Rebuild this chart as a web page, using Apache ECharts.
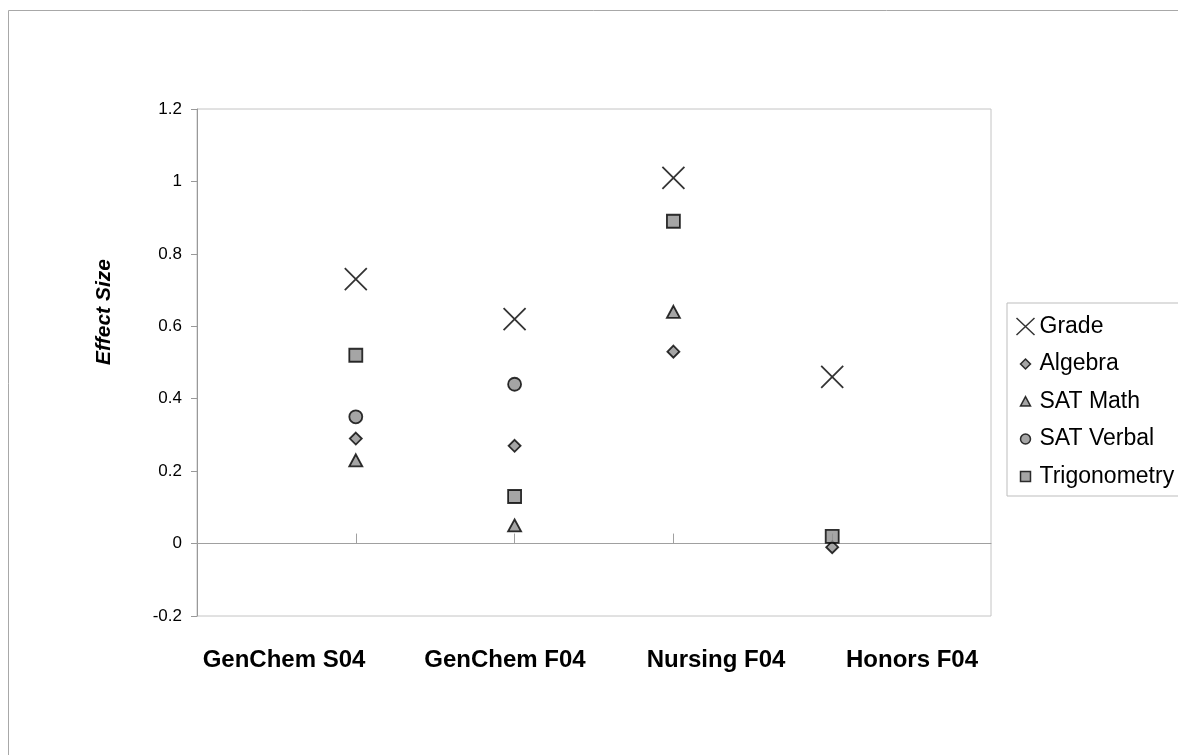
<!DOCTYPE html>
<html>
<head>
<meta charset="utf-8">
<script src="https://cdn.jsdelivr.net/npm/echarts@6/dist/echarts.min.js"></script>
<style>
html,body{margin:0;padding:0;background:#fff;}
#chart{width:1178px;height:755px;}
</style>
</head>
<body>
<div id="chart"></div>
<script>
var categories = ['GenChem S04', 'GenChem F04', 'Nursing F04', 'Honors F04'];
var grade     = [0.73, 0.62, 1.01, 0.46];
var algebra   = [0.29, 0.27, 0.53, -0.01];
var satMath   = [0.23, 0.05, 0.64, null];
var satVerbal = [0.35, 0.44, null, null];
var trig      = [0.52, 0.13, 0.89, 0.02];
var yTicks = [-0.2, 0, 0.2, 0.4, 0.6, 0.8, 1, 1.2];

function pts(arr) {
  var out = [];
  arr.forEach(function (v, i) { if (v !== null) out.push([i + 1, v]); });
  return out;
}

var FONT = '"Liberation Sans", Arial, sans-serif';
var gray = '#8e8e8e';
var markerStyle = { color: gray, borderColor: '#000', borderWidth: 1.8 };
var xPath = 'path://M0,0L10,10M10,0L0,10';

// legend icons (18x18 box, smaller shapes centred inside)
var icons = {
  'Grade': 'path://M0,0L18,17M18,0L0,17',
  'Algebra': 'path://M0,0M18,18M9,4L14,9L9,14L4,9Z',
  'SAT Math': 'path://M0,0M18,18M9,4.2L14,13.5L4,13.5Z',
  'SAT Verbal': 'path://M0,0M18,18M4,9A5,5 0 1 0 14,9A5,5 0 1 0 4,9Z',
  'Trigonometry': 'path://M0,0M18,18M4,4L14,4L14,14L4,14Z'
};

var chart = echarts.init(document.getElementById('chart'), null, { renderer: 'canvas' });

var labelX = [284, 505, 716, 912];

var option = {
  animation: false,
  backgroundColor: '#fff',
  grid: {
    left: 197, top: 109, right: 187, bottom: 139,
    show: true, borderColor: '#c4c4c4', borderWidth: 1
  },
  xAxis: {
    type: 'value', min: 0, max: 5, interval: 1,
    axisLine: { show: true, onZero: true, lineStyle: { color: '#a0a0a0', width: 1 } },
    axisTick: { show: true, inside: true, length: 10, customValues: [1, 2, 3, 4], lineStyle: { color: '#a0a0a0' } },
    axisLabel: { show: false },
    splitLine: { show: false }
  },
  yAxis: {
    type: 'value', min: -0.2, max: 1.2, interval: 0.2,
    axisLine: { show: true, onZero: false, lineStyle: { color: '#999', width: 1 } },
    axisTick: { show: true, length: 6, lineStyle: { color: '#999' } },
    axisLabel: {
      margin: 15, fontFamily: FONT, fontSize: 17, color: '#000',
      formatter: function (v) { return String(Math.round(v * 10) / 10); }
    },
    splitLine: { show: false }
  },
  legend: {
    orient: 'vertical', left: 1007, top: 303,
    padding: [12, 40, 8, 7], itemGap: 14.5,
    borderColor: '#bdbdbd', borderWidth: 1,
    itemWidth: 18, itemHeight: 18,
    textStyle: { fontFamily: FONT, fontSize: 23, color: '#000', padding: [0, 0, 0, 0] },
    data: [
      { name: 'Grade', icon: icons['Grade'], itemStyle: { color: 'none', borderColor: '#000', borderWidth: 1.5 } },
      { name: 'Algebra', icon: icons['Algebra'], itemStyle: { color: gray, borderColor: '#000', borderWidth: 1.5 } },
      { name: 'SAT Math', icon: icons['SAT Math'], itemStyle: { color: gray, borderColor: '#000', borderWidth: 1.5 } },
      { name: 'SAT Verbal', icon: icons['SAT Verbal'], itemStyle: { color: gray, borderColor: '#000', borderWidth: 1.5 } },
      { name: 'Trigonometry', icon: icons['Trigonometry'], itemStyle: { color: gray, borderColor: '#000', borderWidth: 1.5 } }
    ]
  },
  graphic: [
    { type: 'rect', shape: { x: 8.5, y: 10.5, width: 1300, height: 900 }, style: { fill: 'none', stroke: '#a8a8a8', lineWidth: 1 }, silent: true },
    { type: 'text', x: 104, y: 312, rotation: Math.PI / 2,
      style: { text: 'Effect Size', font: 'italic bold 21px ' + FONT, fill: '#000', textAlign: 'center', textVerticalAlign: 'middle' } }
  ].concat(categories.map(function (c, i) {
    return { type: 'text', x: labelX[i], y: 660,
      style: { text: c, font: 'bold 24px ' + FONT, fill: '#000', textAlign: 'center', textVerticalAlign: 'middle' } };
  })),
  series: [
    { name: 'Grade', type: 'scatter', data: pts(grade), symbol: xPath, symbolSize: 22,
      itemStyle: { color: 'none', borderColor: '#000', borderWidth: 1.8 } },
    { name: 'Algebra', type: 'scatter', data: pts(algebra), symbol: 'diamond', symbolSize: 12, itemStyle: markerStyle },
    { name: 'SAT Math', type: 'scatter', data: pts(satMath), symbol: 'triangle', symbolSize: [13, 12], itemStyle: markerStyle },
    { name: 'SAT Verbal', type: 'scatter', data: pts(satVerbal), symbol: 'circle', symbolSize: 13, itemStyle: markerStyle },
    { name: 'Trigonometry', type: 'scatter', data: pts(trig), symbol: 'rect', symbolSize: 13, itemStyle: markerStyle }
  ]
};
chart.setOption(option);
</script>
</body>
</html>
